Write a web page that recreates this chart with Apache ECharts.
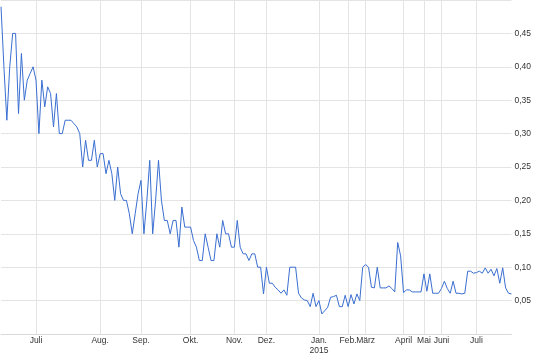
<!DOCTYPE html>
<html>
<head>
<meta charset="utf-8">
<script src="https://cdn.jsdelivr.net/npm/echarts@6/dist/echarts.min.js"></script>
<style>
html,body{margin:0;padding:0;background:#fff;}
#chart{width:534px;height:356px;}
</style>
</head>
<body>
<div id="chart"></div>
<script>
// Price series (one point per trading day with a quote)
const values = [
  0.49, 0.40, 0.32, 0.40, 0.45, 0.45, 0.33, 0.42, 0.35, 0.38,
  0.39, 0.40, 0.38, 0.30, 0.38, 0.34, 0.37, 0.36, 0.31, 0.36,
  0.30, 0.30, 0.32, 0.32, 0.32, 0.315, 0.31, 0.30, 0.25, 0.29,
  0.26, 0.26, 0.29, 0.25, 0.27, 0.27, 0.24, 0.26, 0.24, 0.20,
  0.25, 0.21, 0.20, 0.20, 0.18, 0.15, 0.18, 0.21, 0.23, 0.15,
  0.20, 0.26, 0.15, 0.20, 0.26, 0.20, 0.17, 0.17, 0.15, 0.17,
  0.17, 0.13, 0.19, 0.16, 0.16, 0.16, 0.14, 0.13, 0.11, 0.11,
  0.15, 0.13, 0.11, 0.11, 0.15, 0.13, 0.17, 0.15, 0.15, 0.13,
  0.13, 0.17, 0.13, 0.12, 0.12, 0.11, 0.12, 0.12, 0.10, 0.10,
  0.06, 0.10, 0.076, 0.076, 0.07, 0.066, 0.061, 0.066, 0.058, 0.10,
  0.10, 0.10, 0.061, 0.054, 0.051, 0.05, 0.041, 0.061, 0.041, 0.05,
  0.03, 0.035, 0.04, 0.055, 0.056, 0.058, 0.041, 0.041, 0.058, 0.041,
  0.059, 0.045, 0.06, 0.05, 0.10, 0.104, 0.10, 0.07, 0.069, 0.10,
  0.069, 0.069, 0.069, 0.072, 0.068, 0.063, 0.137, 0.117, 0.062, 0.066,
  0.066, 0.063, 0.063, 0.063, 0.063, 0.09, 0.064, 0.09, 0.061, 0.061,
  0.061, 0.068, 0.079, 0.068, 0.061, 0.079, 0.061, 0.061, 0.06, 0.061,
  0.094, 0.094, 0.091, 0.092, 0.094, 0.091, 0.099, 0.091, 0.097, 0.087,
  0.098, 0.076, 0.099, 0.069, 0.061, 0.06
];
// Index of the first quote of each month, and its label
const monthTickIndex  = [12, 34, 48, 65, 80, 91, 109, 119, 125, 138, 145, 151, 163];
const monthTickLabels = ['Juli', 'Aug.', 'Sep.', 'Okt.', 'Nov.', 'Dez.', 'Jan.\n2015', 'Feb.', 'März', 'April', 'Mai', 'Juni', 'Juli'];
// Y tick step and range
const yMin = 0, yMax = 0.5, yStep = 0.05;

const categories = values.map((_, i) => String(i));
const isMonthTick = (idx) => monthTickIndex.indexOf(idx) >= 0;

const chart = echarts.init(document.getElementById('chart'), null, {renderer: 'canvas'});
chart.setOption({
  animation: false,
  backgroundColor: '#fff',
  grid: {left: 1, right: 17, top: -3, bottom: 20, containLabel: false},
  xAxis: {
    type: 'category',
    data: categories,
    boundaryGap: false,
    axisLine: {show: true, lineStyle: {color: '#d9d9d9', width: 1}},
    axisTick: {show: false},
    axisLabel: {
      interval: (idx) => isMonthTick(idx),
      formatter: (val, idx) => {
        const k = monthTickIndex.indexOf(Number(val));
        return k >= 0 ? monthTickLabels[k] : '';
      },
      color: '#333',
      fontFamily: 'Liberation Sans, Arial, sans-serif',
      fontSize: 8.5,
      lineHeight: 10,
      margin: 2
    },
    splitLine: {
      show: true,
      interval: (idx) => isMonthTick(idx),
      lineStyle: {color: '#e4e4e4', width: 1}
    }
  },
  yAxis: {
    type: 'value',
    position: 'right',
    min: yMin,
    max: yMax,
    interval: yStep,
    axisLine: {show: false},
    axisTick: {show: false},
    axisLabel: {
      showMinLabel: false,
      showMaxLabel: false,
      formatter: (v) => v.toFixed(2).replace('.', ','),
      color: '#333',
      fontFamily: 'Liberation Sans, Arial, sans-serif',
      fontSize: 8.5,
      margin: 3
    },
    splitLine: {show: true, lineStyle: {color: '#e4e4e4', width: 1}}
  },
  series: [{
    type: 'line',
    data: values,
    showSymbol: false,
    symbol: 'none',
    lineStyle: {color: '#3a6fd1', width: 1},
    itemStyle: {color: '#3a6fd1'}
  }]
});
</script>
</body>
</html>
